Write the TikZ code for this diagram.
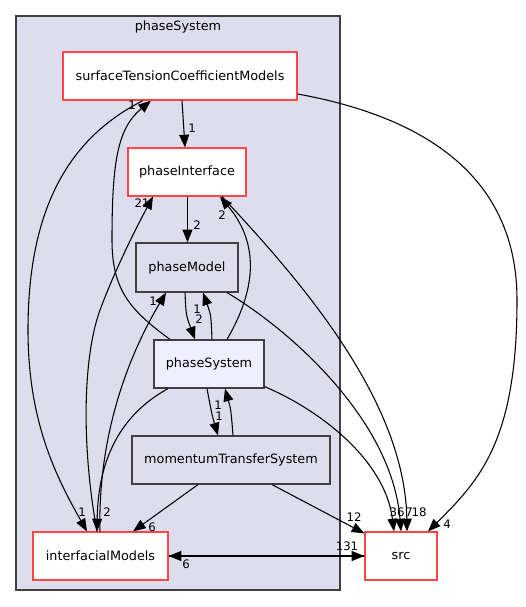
\documentclass[tikz,border=0pt]{standalone}
\usepackage{fontspec}
\setmainfont{DejaVu Sans}
\usetikzlibrary{arrows.meta,calc}
\definecolor{clfill}{HTML}{DDDDEE}
\definecolor{clborder}{HTML}{404040}
\definecolor{redb}{HTML}{FF4444}
\definecolor{psfill}{HTML}{EEEEFF}
\begin{document}
\begin{tikzpicture}[x=0.75pt,y=-0.75pt,
  box/.style={draw, line width=0.9pt, inner sep=0pt, font=\fontsize{9.6}{11}\selectfont},
  redbox/.style={box, draw=redb, fill=white},
  greybox/.style={box, draw=clborder, fill=clfill},
  edge/.style={draw=black, line width=0.8pt, -{Triangle[length=9.5pt,width=7.4pt]}},
  lbl/.style={inner sep=0pt, font=\fontsize{8.8}{10}\selectfont}]
\useasboundingbox (0,0) rectangle (525,607);
% cluster
\node[draw=clborder, fill=clfill, line width=0.9pt, minimum width=243pt, minimum height=430.5pt, inner sep=0pt] (cluster) at (178,303) {};
\node[inner sep=0pt, font=\fontsize{9.6}{11}\selectfont] (ctitle) at (178,27) {phaseSystem};
% nodes
\node[redbox, minimum width=175.5pt, minimum height=36pt] (stcm) at (180,76) {surfaceTensionCoefficientModels};
\node[redbox, minimum width=88.5pt, minimum height=36pt] (pi) at (187,172) {phaseInterface};
\node[greybox, minimum width=76.5pt, minimum height=36.75pt] (pm) at (187,267.5) {phaseModel};
\node[box, draw=clborder, fill=psfill, minimum width=82.5pt, minimum height=36pt] (ps) at (209,364) {phaseSystem};
\node[greybox, minimum width=148.5pt, minimum height=36pt] (mts) at (231,460) {momentumTransferSystem};
\node[redbox, minimum width=101.25pt, minimum height=36pt] (im) at (100.5,556) {interfacialModels};
\node[redbox, minimum width=54pt, minimum height=36pt] (src) at (401,556) {src};
% edges
\draw[edge] ($(stcm.south)+(2,0)$) -- ($(pi.north)+(-2,0)$);
\draw[edge] ($(stcm.east)+(0,18)$) .. controls (430,118) and (517,180) .. (517,300) .. controls (517,440) and (480,480) .. ($(src.north)+(27,0)$);
\draw[edge] ($(pi.south)+(0.5,0)$) -- ($(pm.north)+(0.5,0)$);
\draw[edge] ($(pi.south)+(35,0)$) .. controls (300,280) and (405,400) .. ($(src.north)+(6,0)$);
\draw[edge] ($(ps.north)+(18,0)$) .. controls (250,300) and (265,250) .. ($(pi.south)+(33,0)$);
\draw[edge] ($(pm.south)+(-2,0)$) .. controls (186,315) .. ($(ps.north)+(-14,0)$);
\draw[edge] ($(ps.north)+(3,0)$) .. controls (211,315) .. ($(pm.south)+(16,0)$);
\draw[edge] ($(pm.south)+(40,0)$) .. controls (290,330) and (392,420) .. (src.north);
\draw[edge] ($(ps.south east)+(0,-2)$) .. controls (320,410) and (385,460) .. ($(src.north)+(-7,0)$);
\draw[edge] ($(ps.north)+(-39,0)$) .. controls (130,310) and (112,290) .. (112,240) .. controls (112,160) and (118,128) .. ($(stcm.south)+(-29,0)$);
\draw[edge] ($(stcm.south)+(-37,0)$) .. controls (75,135) and (28,200) .. (28,330) .. controls (28,420) and (55,475) .. ($(im.north)+(-13.5,0)$);
\draw[edge] ($(im.north)+(-3.5,0)$) .. controls (82,450) and (82,360) .. (100,310) .. controls (115,270) and (135,230) .. ($(pi.south)+(-34,0)$);
\draw[edge] ($(im.north)+(-0.5,0)$) .. controls (98,450) and (120,370) .. ($(pm.south)+(-21,0)$);
\draw[edge] ($(ps.south)+(-41,0)$) .. controls (120,415) and (98,460) .. ($(im.north)+(-3.5,0)$);
\draw[edge] ($(ps.south)+(-2,0)$) .. controls (212,415) .. ($(mts.north)+(-13,0)$);
\draw[edge] ($(mts.north)+(2,0)$) .. controls (231,410) .. ($(ps.south)+(16,0)$);
\draw[edge] ($(mts.south)+(-33,0)$) -- ($(im.north)+(32.5,0)$);
\draw[edge] ($(mts.south)+(41,0)$) -- ($(src.north west)+(0,2)$);
\draw[edge] (im.east) -- (src.west);
\draw[edge] (src.west) -- (im.east);
% labels
\node[lbl] (l1) at (192,128) {1};
\node[lbl] (l2) at (447,524) {4};
\node[lbl] (l3) at (197,225) {2};
\node[lbl] (l4) at (419,512) {18};
\node[lbl] (l5) at (222,215) {2};
\node[lbl] (l6) at (199,319) {2};
\node[lbl] (l7) at (197,309) {1};
\node[lbl] (l8) at (409,512) {7};
\node[lbl] (l9) at (397,512) {36};
\node[lbl] (l10) at (132,105) {1};
\node[lbl] (l11) at (82,512) {1};
\node[lbl] (l12) at (142,203) {21};
\node[lbl] (l13) at (153,301) {1};
\node[lbl] (l14) at (107,512) {2};
\node[lbl] (l15) at (219,416) {1};
\node[lbl] (l16) at (218,405) {1};
\node[lbl] (l17) at (152,527) {6};
\node[lbl] (l18) at (354,517) {12};
\node[lbl] (l19) at (347,546) {131};
\node[lbl] (l20) at (186,564) {6};
\end{tikzpicture}
\end{document}
